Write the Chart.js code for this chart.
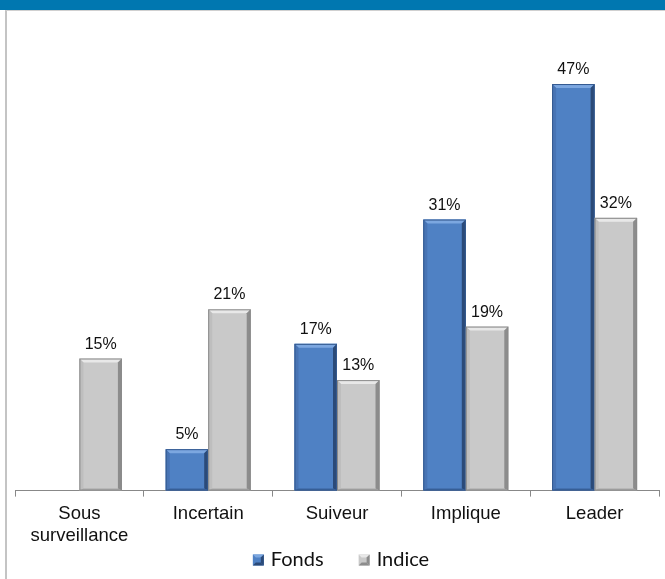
<!DOCTYPE html>
<html>
<head>
<meta charset="utf-8">
<script src="https://cdn.jsdelivr.net/npm/chart.js@4"></script>
<style>
  body { margin: 0; background: #fff; overflow: hidden; }
  #banner { position: absolute; left: 0; top: 0; width: 665px; height: 10px; background: #0077B0; }
  #frame { position: absolute; left: 5px; top: 10px; width: 660px; height: 569px;
           border-left: 2px solid #c4c4c4; border-top: 1px solid #d0d0d0; }
  #wrap { position: absolute; left: 0; top: 0; width: 665px; height: 579px; }
</style>
</head>
<body>
<div id="banner"></div>
<div id="frame"></div>
<div id="wrap"><canvas id="myChart" width="665" height="579"></canvas></div>
<script>
// chart values (labels show them rounded)
const categories = [['Sous', 'surveillance'], 'Incertain', 'Suiveur', 'Implique', 'Leader'];
const fonds = [null, 4.8, 17, 31.4, 47.1];
const indice = [15.3, 21, 12.8, 19, 31.6];

const styles = {
  Fonds: { face: '#4F81C4', top: '#7CA7E0', left: '#4874B4', right: '#2B4A78', bottom: '#3A639C', line: '#34598F' },
  Indice: { face: '#C9C9C9', top: '#E8E8E8', left: '#BEBEBE', right: '#8C8C8C', bottom: '#A8A8A8', line: '#8A8A8A' }
};

function poly(ctx, pts, color) {
  ctx.beginPath();
  ctx.moveTo(pts[0][0], pts[0][1]);
  for (let k = 1; k < pts.length; k++) ctx.lineTo(pts[k][0], pts[k][1]);
  ctx.closePath();
  ctx.fillStyle = color;
  ctx.fill();
}

// bevel look on the bars + value labels above them
const barDecor = {
  id: 'barDecor',
  afterDatasetsDraw(chart) {
    const ctx = chart.ctx;
    ctx.save();
    chart.data.datasets.forEach((ds, i) => {
      const st = styles[ds.label];
      chart.getDatasetMeta(i).data.forEach((bar, j) => {
        if (ds.data[j] == null) return;
        const l = bar.x - bar.width / 2, r = bar.x + bar.width / 2;
        const t = bar.y, b = bar.base, e = 4;
        poly(ctx, [[l, t], [r, t], [r - e, t + e], [l + e, t + e]], st.top);
        poly(ctx, [[l, t], [l + e, t + e], [l + e, b - 2], [l, b]], st.left);
        poly(ctx, [[r, t], [r - e, t + e], [r - e, b - 2], [r, b]], st.right);
        poly(ctx, [[l, b], [l + e, b - 2], [r - e, b - 2], [r, b]], st.bottom);
        ctx.strokeStyle = st.line;
        ctx.lineWidth = 1;
        ctx.strokeRect(l + 0.5, t + 0.5, r - l - 1, b - t - 1);
      });
    });
    ctx.font = '16px "Liberation Sans", Arial';
    ctx.fillStyle = '#111';
    ctx.textAlign = 'center';
    ctx.textBaseline = 'alphabetic';
    chart.data.datasets.forEach((ds, i) => {
      chart.getDatasetMeta(i).data.forEach((bar, j) => {
        if (ds.data[j] == null) return;
        ctx.fillText(Math.round(ds.data[j]) + '%', bar.x, bar.y - 10);
      });
    });
    ctx.restore();
  },
  // legend under the axis labels
  afterDraw(chart) {
    const ctx = chart.ctx;
    ctx.save();
    ctx.font = '20px Lato, "Open Sans", sans-serif';
    ctx.textBaseline = 'middle';
    const box = 11, gap = 7, between = 35, y = 560;
    const items = chart.data.datasets.map(ds => ({ label: ds.label, w: ctx.measureText(ds.label).width }));
    let total = items.reduce((s, it) => s + box + gap + it.w, 0) + between * (items.length - 1);
    let x = (chart.chartArea.left + chart.chartArea.right) / 2 + 4 - total / 2;
    items.forEach(it => {
      const st = styles[it.label];
      const t = y - box / 2;
      ctx.fillStyle = st.face;
      ctx.fillRect(x, t, box, box);
      poly(ctx, [[x, t], [x + box, t], [x + box - 3, t + 3], [x + 3, t + 3]], st.top);
      poly(ctx, [[x + box, t], [x + box - 3, t + 3], [x + box - 3, t + box - 3], [x + box, t + box]], st.right);
      poly(ctx, [[x, t + box], [x + 3, t + box - 3], [x + box - 3, t + box - 3], [x + box, t + box]], st.right);
      ctx.fillStyle = '#111';
      ctx.textAlign = 'left';
      ctx.fillText(it.label, x + box + gap, y);
      x += box + gap + it.w + between;
    });
    ctx.restore();
  }
};

let ctx = document.getElementById('myChart').getContext('2d');
let myChart = new Chart(ctx, {
  type: 'bar',
  data: {
    labels: categories,
    datasets: [{
      label: 'Fonds',
      data: fonds,
      backgroundColor: styles.Fonds.face,
      borderWidth: 0
    }, {
      label: 'Indice',
      data: indice,
      backgroundColor: styles.Indice.face,
      borderWidth: 0
    }]
  },
  options: {
    responsive: false,
    animation: false,
    layout: { padding: { top: 59, left: 15, right: 6, bottom: 26 } },
    datasets: { bar: { categoryPercentage: 0.66, barPercentage: 1 } },
    plugins: {
      legend: { display: false },
      tooltip: { enabled: false }
    },
    scales: {
      y: { display: false, min: 0, max: 50 },
      x: {
        grid: { drawOnChartArea: false, color: '#888', tickLength: 6, offset: true },
        border: { color: '#888' },
        ticks: { color: '#111', font: { family: '"Liberation Sans", Arial', size: 18.5, lineHeight: 1.2 }, maxRotation: 0, padding: 6 }
      }
    }
  },
  plugins: [barDecor]
});
</script>
</body>
</html>
